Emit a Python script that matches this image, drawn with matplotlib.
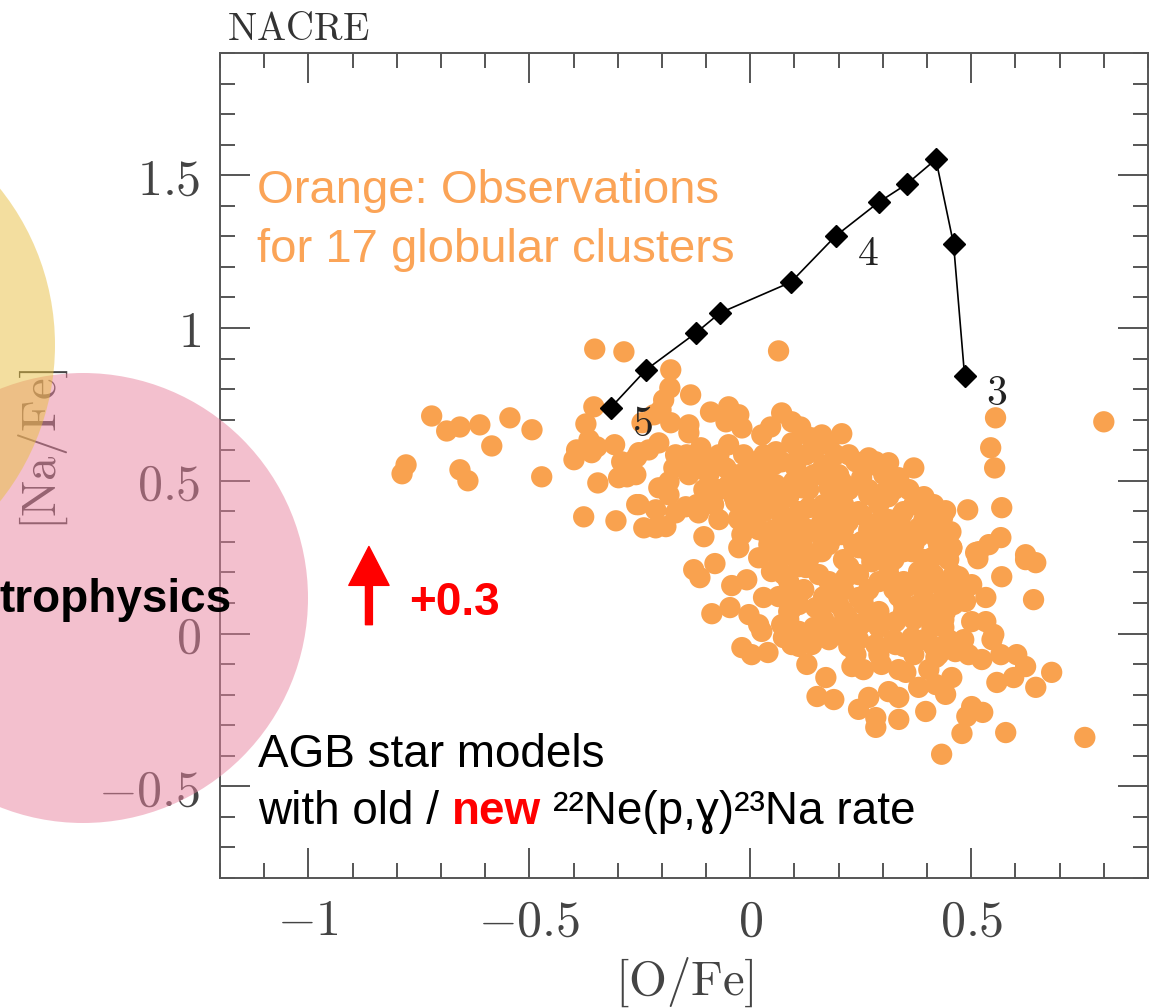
import matplotlib.pyplot as plt
from matplotlib.patches import Ellipse
from matplotlib.ticker import FixedLocator, FixedFormatter, MultipleLocator

plt.rcParams['mathtext.fontset'] = 'cm'

# AGB model track (NACRE 22Ne(p,g)23Na rate), 5 / 4 / 3 Msun marked
model_o_fe = [-0.316, -0.236, -0.123, -0.069, 0.092, 0.193, 0.291, 0.354, 0.420, 0.460, 0.485]
model_na_fe = [0.739, 0.863, 0.984, 1.049, 1.150, 1.301, 1.412, 1.471, 1.552, 1.275, 0.843]
mass_labels = ['5', '4', '3']
mass_label_idx = [0, 5, 10]

# observations, 17 globular clusters ([O/Fe], [Na/Fe])
obs = [
    # metal-poor tail on the left
    (-0.352, 0.931), (-0.286, 0.922), (-0.721, 0.712), (-0.687, 0.663), (-0.657, 0.676),
    (-0.612, 0.683), (-0.544, 0.706), (-0.494, 0.667), (-0.585, 0.614), (-0.779, 0.552),
    (-0.788, 0.523), (-0.657, 0.536), (-0.639, 0.500), (-0.472, 0.513), (-0.354, 0.742),
    (-0.372, 0.686), (-0.393, 0.601), (-0.399, 0.569), (-0.365, 0.634), (-0.347, 0.611),
    (-0.359, 0.592), (-0.307, 0.618), (-0.345, 0.493), (-0.377, 0.382), (-0.304, 0.369),
    (-0.291, 0.562), (-0.275, 0.529), (-0.298, 0.510), (-0.279, 0.513), (-0.257, 0.578),
    (-0.257, 0.422),
    # upper part of the main cloud
    (0.064, 0.925), (-0.180, 0.863), (-0.182, 0.804), (-0.135, 0.781), (-0.196, 0.765),
    (-0.202, 0.732), (-0.218, 0.716), (-0.180, 0.690), (-0.245, 0.690), (-0.139, 0.683),
    (-0.139, 0.657), (-0.090, 0.725), (-0.049, 0.742), (-0.026, 0.716), (-0.055, 0.693),
    (-0.019, 0.673), (0.071, 0.722), (0.094, 0.693), (0.114, 0.676), (0.046, 0.676),
    (0.026, 0.650), (0.207, 0.654), (0.162, 0.650), (0.137, 0.641), (0.094, 0.624),
    (-0.049, 0.618), (-0.207, 0.624), (-0.230, 0.601), (-0.252, 0.592), (-0.268, 0.562),
    (-0.259, 0.520), (-0.169, 0.585), (-0.144, 0.585), (-0.112, 0.608), (-0.110, 0.575),
    (-0.128, 0.536), (-0.173, 0.542), (-0.184, 0.497), (-0.207, 0.477), (-0.184, 0.454),
    (-0.252, 0.422), (-0.214, 0.405), (-0.169, 0.395), (-0.146, 0.415), (-0.121, 0.422),
    (-0.117, 0.395), (-0.241, 0.346), (-0.214, 0.346), (-0.191, 0.350), (-0.105, 0.317),
    (-0.071, 0.373), (-0.094, 0.520), (-0.087, 0.477), (-0.071, 0.562), (-0.055, 0.542),
    (-0.049, 0.487), (-0.033, 0.431), (-0.026, 0.379), (-0.019, 0.324), (0.012, 0.366),
    (0.042, 0.314), (-0.003, 0.477), (0.019, 0.431), (0.003, 0.562), (0.035, 0.542),
    (0.058, 0.595), (0.071, 0.562), (0.103, 0.542), (0.126, 0.585), (0.148, 0.608),
    (0.178, 0.618), (0.193, 0.585), (0.239, 0.562), (0.268, 0.575), (0.058, 0.487),
    (0.087, 0.454), (0.117, 0.477), (0.148, 0.520), (0.178, 0.477), (0.207, 0.497),
    (0.252, 0.510), (0.268, 0.454), (0.071, 0.389), (0.103, 0.366), (0.132, 0.412),
    (0.162, 0.366), (0.193, 0.412), (0.222, 0.366), (0.252, 0.389), (0.080, 0.324),
    (0.117, 0.301), (0.162, 0.314), (0.207, 0.324), (0.252, 0.301), (0.284, 0.324),
    # right-hand side
    (0.555, 0.706), (0.800, 0.693), (0.544, 0.608), (0.553, 0.542), (0.370, 0.542),
    (0.442, 0.402), (0.492, 0.405), (0.569, 0.412), (0.567, 0.314), (0.540, 0.291),
    (0.517, 0.268), (0.454, 0.333), (0.313, 0.559), (0.284, 0.562), (0.336, 0.510),
    (0.306, 0.464), (0.381, 0.444), (0.404, 0.412), (0.343, 0.389), (0.291, 0.366),
    (0.381, 0.346), (0.420, 0.314), (0.329, 0.301), (0.456, 0.281), (0.623, 0.258),
    (0.435, 0.379), (0.515, 0.245), (0.757, -0.340),
    # lower-left of the cloud
    (-0.128, 0.209), (-0.114, 0.183), (-0.080, 0.229), (-0.042, 0.157), (-0.008, 0.176),
    (-0.087, 0.065), (-0.046, 0.085), (-0.003, 0.062), (0.019, 0.029), (0.026, 0.007),
    (0.030, 0.118), (-0.019, -0.046), (0.003, -0.069), (0.040, -0.062), (-0.026, 0.281),
    (0.019, 0.248), (0.048, 0.203), (0.071, 0.029), (0.075, -0.013),
    # lower part of the cloud
    (0.092, 0.258), (0.126, 0.216), (0.094, 0.127), (0.092, 0.078), (0.148, 0.085),
    (0.075, 0.020), (0.094, -0.036), (0.128, -0.101), (0.171, -0.144), (0.151, -0.206),
    (0.189, -0.216), (0.239, -0.069), (0.230, -0.108), (0.245, -0.248), (0.268, -0.209),
    (0.284, -0.275), (0.284, -0.307), (0.336, -0.281), (0.313, -0.190), (0.336, -0.209),
    (0.352, -0.127), (0.297, -0.101), (0.284, -0.036), (0.216, -0.013), (0.185, 0.020),
    (0.139, -0.036), (0.397, -0.255), (0.381, -0.176), (0.420, -0.167), (0.442, -0.199),
    (0.456, -0.144), (0.433, -0.395), (0.479, -0.327), (0.490, -0.271), (0.501, -0.239),
    (0.526, -0.258), (0.578, -0.324), (0.558, -0.160), (0.596, -0.144), (0.646, -0.176),
    (0.682, -0.127), (0.623, -0.108), (0.603, -0.069), (0.567, -0.069), (0.547, -0.020),
    (0.551, -0.003), (0.524, -0.085), (0.494, -0.069), (0.464, -0.059), (0.420, -0.078),
    (0.533, 0.039), (0.501, 0.039), (0.487, 0.105), (0.533, 0.118), (0.501, 0.160),
    (0.472, 0.186), (0.569, 0.186), (0.623, 0.242), (0.646, 0.232), (0.641, 0.111),
    (0.510, 0.265), (0.456, 0.281), (0.442, 0.072), (0.411, 0.020), (0.366, -0.013),
    (0.329, -0.036), (0.381, 0.095), (0.352, 0.150), (0.313, 0.193), (0.275, 0.235),
    (0.216, 0.183), (0.185, 0.160), (0.245, 0.118), (0.291, 0.072), (0.329, 0.039),
    (0.261, 0.039), (0.216, 0.062), (0.178, 0.105), (0.139, 0.007), (0.110, 0.007),
    (0.381, 0.203), (0.411, 0.248), (0.366, 0.268), (0.306, 0.268), (0.245, 0.281),
    (0.162, 0.268), (0.388, 0.150), (0.426, 0.170), (0.449, 0.127),
    # dense core
    (-0.071, 0.585), (-0.015, 0.585), (0.031, 0.585), (0.110, 0.585), (0.223, 0.585),
    (-0.139, 0.520), (-0.026, 0.520), (0.019, 0.520), (0.110, 0.520), (0.144, 0.520),
    (0.200, 0.520), (0.302, 0.520),
    (-0.105, 0.471), (-0.071, 0.471), (0.042, 0.471), (0.132, 0.471), (0.223, 0.471),
    (0.268, 0.471), (0.325, 0.471), (0.359, 0.471),
    (-0.083, 0.422), (-0.003, 0.422), (0.064, 0.422), (0.166, 0.422), (0.211, 0.422),
    (0.291, 0.422), (0.370, 0.422), (0.415, 0.422),
    (-0.026, 0.373), (0.076, 0.373), (0.110, 0.373), (0.189, 0.373), (0.223, 0.373),
    (0.313, 0.373), (0.393, 0.373), (0.426, 0.373),
    (0.019, 0.340), (0.053, 0.340), (0.132, 0.340), (0.211, 0.340), (0.268, 0.340),
    (0.347, 0.340), (0.404, 0.340),
    (0.042, 0.291), (0.110, 0.291), (0.178, 0.291), (0.234, 0.291), (0.302, 0.291),
    (0.370, 0.291), (0.426, 0.291),
    (0.064, 0.242), (0.132, 0.242), (0.211, 0.242), (0.302, 0.242), (0.325, 0.242),
    (0.393, 0.242), (0.449, 0.242),
    (0.076, 0.193), (0.155, 0.193), (0.245, 0.193), (0.313, 0.193), (0.415, 0.193),
    (0.460, 0.193),
    (0.121, 0.144), (0.211, 0.144), (0.268, 0.144), (0.325, 0.144), (0.393, 0.144),
    (0.438, 0.144), (0.472, 0.144),
    (0.110, 0.095), (0.200, 0.095), (0.256, 0.095), (0.347, 0.095), (0.415, 0.095),
    (0.460, 0.095),
    (0.087, 0.046), (0.166, 0.046), (0.223, 0.046), (0.291, 0.046), (0.370, 0.046),
    (0.438, 0.046),
    (0.178, -0.020), (0.245, -0.020), (0.325, -0.020), (0.393, -0.020), (0.449, -0.020),
    (0.483, -0.020),
    (0.291, -0.069), (0.370, -0.069), (0.426, -0.069),
    (0.256, -0.118), (0.336, -0.118), (0.404, -0.118),
    (0.053, 0.552), (0.166, 0.552), (0.279, 0.552),
    (0.008, 0.497), (0.098, 0.497), (0.178, 0.497), (0.325, 0.497),
    (-0.037, 0.448), (0.087, 0.448), (0.200, 0.448), (0.313, 0.448), (0.393, 0.448),
    (0.031, 0.399), (0.110, 0.399), (0.245, 0.399), (0.347, 0.399), (0.438, 0.399),
    (0.087, 0.317), (0.189, 0.317), (0.313, 0.317), (0.381, 0.317),
    (0.076, 0.268), (0.155, 0.268), (0.268, 0.268), (0.347, 0.268), (0.438, 0.268),
    (0.110, 0.219), (0.223, 0.219), (0.313, 0.219), (0.404, 0.219),
    (0.087, 0.170), (0.178, 0.170), (0.291, 0.170), (0.347, 0.170), (0.460, 0.170),
    (0.064, 0.121), (0.166, 0.121), (0.256, 0.121), (0.336, 0.121), (0.438, 0.121),
    (0.087, 0.072), (0.211, 0.072), (0.347, 0.072), (0.404, 0.072),
    (0.144, 0.020), (0.245, 0.020), (0.291, 0.020), (0.438, 0.020),
    (0.110, -0.042), (0.223, -0.042), (0.347, -0.042), (0.415, -0.042),
]
obs_o_fe = [p[0] for p in obs]
obs_na_fe = [p[1] for p in obs]

x_ticks = [-1, -0.5, 0, 0.5]
x_tick_labels = ['$-1$', '$-0.5$', '$0$', '$0.5$']
y_ticks = [-0.5, 0, 0.5, 1, 1.5]
y_tick_labels = ['$-0.5$', '$0$', '$0.5$', '$1$', '$1.5$']

W, H = 1152, 1008
fig = plt.figure(figsize=(W / 100, H / 100), dpi=100)
ax = fig.add_axes([220 / W, 130 / H, 928 / W, 825 / H])

orange = '#f9a24f'
ax.scatter(obs_o_fe, obs_na_fe, s=235, color=orange, edgecolors='none', zorder=2)
ax.plot(model_o_fe, model_na_fe, color='black', lw=1.2, marker='D', ms=11.5, zorder=3)
for lab, i in zip(mass_labels, mass_label_idx):
    ax.annotate('$' + lab + '$', xy=(model_o_fe[i], model_na_fe[i]), xytext=(23, -12),
                textcoords='offset points', ha='center', va='center', fontsize=30, color='#222222')

ax.set_xlim(-1.2, 0.9)
ax.set_ylim(-0.8, 1.9)

gray = '#555555'
for sp in ax.spines.values():
    sp.set_color(gray)
    sp.set_linewidth(1.4)
ax.xaxis.set_major_locator(FixedLocator(x_ticks))
ax.xaxis.set_major_formatter(FixedFormatter(x_tick_labels))
ax.yaxis.set_major_locator(FixedLocator(y_ticks))
ax.yaxis.set_major_formatter(FixedFormatter(y_tick_labels))
ax.xaxis.set_minor_locator(MultipleLocator(0.1))
ax.yaxis.set_minor_locator(MultipleLocator(0.1))
ax.tick_params(which='both', direction='in', top=True, right=True, color=gray, width=1.4,
               labelcolor='#444444', labelsize=36)
ax.tick_params(which='major', length=21.6)
ax.tick_params(which='minor', length=10.8)
ax.tick_params(axis='x', pad=14)
ax.tick_params(axis='y', pad=14)

ax.set_xlabel(r'$[\mathrm{O/Fe}]$', fontsize=35, color='#444444')
ax.xaxis.set_label_coords(0.5, -0.094)
ax.set_ylabel(r'$[\mathrm{Na/Fe}]$', fontsize=35, color='#444444')
ax.yaxis.set_label_coords(-0.162, 0.52)

fig.text(227 / W, 1 - 40 / H, r'$\mathrm{NACRE}$', fontsize=28, color='#333333', va='baseline')

# arrow showing the shift from the new rate
ax.annotate('', xy=(-0.863, 0.285), xytext=(-0.863, 0.029),
            arrowprops=dict(facecolor='red', edgecolor='red', width=5, headwidth=29,
                            headlength=28, shrink=0))
sans = ['Liberation Sans', 'DejaVu Sans']
fig.text(409 / W, 1 - 615 / H, '+0.3', color='red', fontsize=33, fontweight='bold',
         family=sans, va='baseline')

fig.text(257 / W, 1 - 203 / H, 'Orange: Observations', color='#fba457', fontsize=34,
         family=sans, va='baseline')
fig.text(257 / W, 1 - 262 / H, 'for 17 globular clusters', color='#fba457', fontsize=34,
         family=sans, va='baseline')

fig.text(258 / W, 1 - 767 / H, 'AGB star models', color='black', fontsize=33,
         family=sans, va='baseline')
t1 = fig.text(258 / W, 1 - 824 / H, 'with old /', color='black', fontsize=33,
              family=sans, va='baseline')
t2 = ax.annotate('new', xy=(1, 0), xycoords=t1, xytext=(9, 0), textcoords='offset points',
                 va='bottom', color='red', fontsize=33, fontweight='bold', family=sans,
                 annotation_clip=False)
ax.annotate('\u00b2\u00b2Ne(p,\u0263)\u00b2\u00b3Na rate', xy=(1, 0), xycoords=t2, xytext=(9, 0),
            textcoords='offset points', va='bottom', color='black', fontsize=33, family=sans,
            annotation_clip=False)

# slide overlay circles
fig.add_artist(Ellipse((83 / W, 1 - 598 / H), 450 / W, 450 / H, transform=fig.transFigure,
                       facecolor=(0.91, 0.51, 0.62), alpha=0.5, edgecolor='none', zorder=1))
fig.add_artist(Ellipse((-195 / W, 1 - 345 / H), 500 / W, 500 / H, transform=fig.transFigure,
                       facecolor=(0.91, 0.75, 0.25), alpha=0.5, edgecolor='none', zorder=1))
fig.text(232 / W, 1 - 612 / H, 'trophysics', color='black', fontsize=33, fontweight='bold',
         family=sans, ha='right', va='baseline', zorder=3)

fig.savefig('out.png', dpi=100)
